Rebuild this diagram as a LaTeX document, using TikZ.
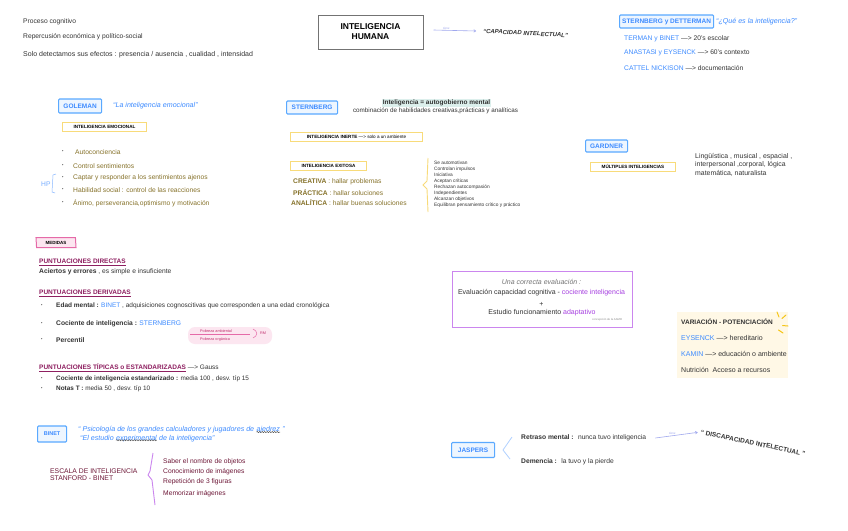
\documentclass[tikz,border=0pt]{standalone}
\usepackage{fontspec}
\setmainfont{Liberation Sans}
\usetikzlibrary{arrows.meta,shapes.geometric,decorations.pathmorphing}
\definecolor{ink}{HTML}{333333}
\definecolor{nameblue}{HTML}{3D8BFF}
\definecolor{boxblue}{HTML}{5AA9FF}
\definecolor{boxfill}{HTML}{EEF6FF}
\definecolor{olivetx}{HTML}{86722A}
\definecolor{tagyel}{HTML}{F8DB7A}
\definecolor{mag}{HTML}{8E1F60}
\definecolor{maroontx}{HTML}{6E1838}
\definecolor{purp}{HTML}{A63FE0}
\definecolor{purpline}{HTML}{CB86EE}
\definecolor{pinkline}{HTML}{E56AA8}
\definecolor{pinkfill}{HTML}{FCE6F0}
\definecolor{pinktx}{HTML}{C0306E}
\definecolor{lav}{HTML}{A0A8EE}
\definecolor{cream}{HTML}{FFF8E6}
\definecolor{sun}{HTML}{F5C518}
\definecolor{mint}{HTML}{DCEFEC}
\newcommand\tto{---{}>}
\begin{document}
\begin{tikzpicture}[x=1pt,y=-1pt,
 txt/.style={anchor=west,inner sep=0pt,text=ink,font=\fontsize{6.7}{8}\selectfont},
 tiny/.style={txt,font=\fontsize{4.8}{5}\selectfont},
 author/.style={draw=boxblue,fill=boxfill,line width=1.2pt,rounded corners=1pt,anchor=west,inner sep=0pt,text=nameblue,font=\fontsize{6.5}{7}\selectfont\bfseries},
 tagbox/.style={draw=tagyel,line width=1pt,anchor=west,inner sep=0pt,minimum height=9,text=black,font=\fontsize{4.6}{5}\selectfont\bfseries},
 quoteblue/.style={txt,text=nameblue,font=\fontsize{7.1}{8}\selectfont\itshape},
 goltx/.style={txt,text=olivetx},
 headmag/.style={txt,text=mag,font=\fontsize{6.5}{8}\selectfont\bfseries},
 dotmark/.style={txt,font=\fontsize{4}{5}\selectfont},
 maroon/.style={txt,text=maroontx},
 handq/.style={inner sep=0pt,text=ink,font=\fontsize{6}{7}\selectfont\bfseries\itshape},
 sk/.style={lav,line width=0.6pt,-{To[length=2.5pt,width=3pt]}},
 sklbl/.style={inner sep=0.5pt,text=lav,font=\fontsize{3}{3}\selectfont\itshape},
 wig/.style={decorate,decoration={snake,amplitude=0.6pt,segment length=2.5pt},line width=0.45pt,black!70},
]
\useasboundingbox[fill=white] (0,0) rectangle (848,530);

\node[txt] (cog) at (23,22) {Proceso cognitivo};
\node[txt] (rep) at (23,37) {Repercusión económica y político-social};
\node[txt,font=\fontsize{7}{8}\selectfont] (sol) at (23,55) {Solo detectamos sus efectos : presencia / ausencia , cualidad , intensidad};

\node[draw=black!55,line width=1pt,minimum width=105,minimum height=34,align=center,inner sep=0pt,font=\fontsize{8.5}{10}\selectfont\bfseries] (hum) at (370.5,32) {INTELIGENCIA\\HUMANA};
\node[handq,rotate=-3,anchor=west] (capq) at (483,31) {“CAPACIDAD INTELECTUAL”};
\draw[sk] ([shift={(10,-2)}]hum.east) -- node[sklbl,pos=0.3,above] {tiene} ([xshift=-7]capq.west);

\node[author,minimum width=94,minimum height=13] (stdet) at (619,21.5) {STERNBERG y DETTERMAN};
\node[quoteblue] (qes) at (716,22) {“¿Qué es la inteligencia?”};
\node[txt] (ter) at (624,39) {\textcolor{nameblue}{TERMAN y BINET} \tto{} 20's escolar};
\node[txt] (ana) at (624,53) {\textcolor{nameblue}{ANASTASI y EYSENCK} \tto{} 60's contexto};
\node[txt] (cat) at (624,68) {\textcolor{nameblue}{CATTEL NICKISON} \tto{} documentación};

\node[author,minimum width=43,minimum height=14] (gol) at (58,106) {GOLEMAN};
\node[quoteblue] (golq) at (113,106) {“La inteligencia emocional”};
\node[tagbox,minimum width=84] (emo) at (62,126.5) {INTELIGENCIA EMOCIONAL};
\node[dotmark] (g1d) at (62,152) {•};
\node[goltx] (g1) at (75,152) {Autoconciencia};
\node[dotmark] (g2d) at (62,166) {•};
\node[goltx] (g2) at (73,166) {Control sentimientos};
\node[dotmark] (g3d) at (62,178) {•};
\node[goltx] (g3) at (73,178) {Captar y responder a los sentimientos ajenos};
\node[dotmark] (g4d) at (62,190) {•};
\node[goltx] (g4) at (73,190) {Habilidad social : control de las reacciones};
\node[dotmark] (g5d) at (62,203) {•};
\node[goltx] (g5) at (73,203) {Ánimo, perseverancia,optimismo y motivación};
\node[txt,text=nameblue!70] (hp) at (41,184) {HP};
\draw[nameblue!60,line width=0.5pt] (56,174) -- (53,175) -- (52,192) -- (55,193);

\node[author,minimum width=51,minimum height=13] (ste) at (286,107.5) {STERNBERG};
\node[inner sep=0.6pt,fill=mint,text=ink,font=\fontsize{6.5}{7}\selectfont\bfseries] (auto) at (436.5,103) {Inteligencia = autogobierno mental};
\node[txt,anchor=center,font=\fontsize{6.3}{7}\selectfont] (comb) at (435.5,111) {combinación de habilidades creativas,prácticas y analíticas};
\node[tagbox,minimum width=132] (inerte) at (290,136.5) {INTELIGENCIA INERTE \textmd{\tto{} solo a un ambiente}};
\node[tagbox,minimum width=76] (exit) at (290,165.5) {INTELIGENCIA EXITOSA};
\node[goltx] (crea) at (293,182) {\textbf{CREATIVA} : hallar problemas};
\node[goltx] (prac) at (293,193) {\textbf{PRÁCTICA} : hallar soluciones};
\node[goltx] (anal) at (291,203) {\textbf{ANALÍTICA} : hallar buenas soluciones};
\draw[tagyel,line width=0.9pt] (428,158) .. controls (427,170) .. (427,181) -- (423,185) -- (427,189) .. controls (427,200) .. (428,212);
\node[tiny] (s1) at (434,163) {Se automotivan};
\node[tiny] (s2) at (434,169) {Controlan impulsos};
\node[tiny] (s3) at (434,175) {Iniciativa};
\node[tiny] (s4) at (434,181) {Aceptan críticas};
\node[tiny] (s5) at (434,187) {Rechazan autocompasión};
\node[tiny] (s6) at (434,193) {Independientes};
\node[tiny] (s7) at (434,199) {Alcanzan objetivos};
\node[tiny] (s8) at (434,205) {Equilibran pensamiento crítico y práctico};

\node[author,minimum width=42,minimum height=12] (gar) at (585,146) {GARDNER};
\node[tagbox,minimum width=85] (mul) at (590,166.5) {MÚLTIPLES INTELIGENCIAS};
\node[txt,align=left,anchor=north west,font=\fontsize{6.9}{8.5}\selectfont] (gtip) at (695,153) {Lingüística , musical , espacial ,\\interpersonal ,corporal, lógica\\matemática, naturalista};

\node[trapezium,trapezium left angle=100,trapezium right angle=80,trapezium stretches body,draw=pinkline,fill=pinkfill,line width=1pt,minimum width=40,minimum height=10,inner sep=0pt,font=\fontsize{4.5}{5}\selectfont\bfseries] (med) at (56,242.5) {MEDIDAS};
\node[headmag] (pdir) at (39,262) {\underline{PUNTUACIONES DIRECTAS}};
\node[txt] (acer) at (39,272) {\textbf{Aciertos y errores} , es simple e insuficiente};
\node[headmag] (pder) at (39,293) {\underline{PUNTUACIONES DERIVADAS}};
\node[dotmark] (d1d) at (41,306) {•};
\node[txt,font=\fontsize{6.5}{8}\selectfont] (d1) at (56,306) {\textbf{Edad mental :} \textcolor{nameblue}{BINET} , adquisiciones cognoscitivas que corresponden a una edad cronológica};
\node[dotmark] (d2d) at (41,324) {•};
\node[txt] (d2) at (56,324) {\textbf{Cociente de inteligencia :} \textcolor{nameblue}{STERNBERG}};
\node[dotmark] (d3d) at (41,340) {•};
\node[txt] (d3) at (56,340) {\textbf{Percentil}};
\fill[pinkfill,rounded corners=7pt] (188,327) rectangle (272,344);
\node[txt,text=pinktx,font=\fontsize{3.8}{4}\selectfont] (pamb) at (200,331.5) {Pobreza ambiental};
\node[txt,text=pinktx,font=\fontsize{3.8}{4}\selectfont] (porg) at (200,339.5) {Pobreza orgánica};
\draw[pinkline,line width=0.5pt] (190,334.5) -- (250,334.5);
\draw[pinkline,line width=0.5pt] (253,329) .. controls (258,331) and (258,336) .. (253,338);
\node[txt,text=pinktx,font=\fontsize{3.8}{4}\selectfont] (rm) at (260,333.5) {RM};
\node[headmag] (ptip) at (39,368) {\underline{PUNTUACIONES TÍPICAS o ESTANDARIZADAS} \textcolor{ink}{\textmd{\tto{} Gauss}}};
\node[dotmark] (t1d) at (41,379) {•};
\node[txt,font=\fontsize{6.4}{8}\selectfont] (t1) at (56,379) {\textbf{Cociente de inteligencia estandarizado :} media 100 , desv. típ 15};
\node[dotmark] (t2d) at (41,389) {•};
\node[txt,font=\fontsize{6.4}{8}\selectfont] (t2) at (56,389) {\textbf{Notas T :} media 50 , desv. típ 10};

\node[draw=purpline,line width=1pt,minimum width=180,minimum height=56] (eval) at (542,299) {};
\node[txt,anchor=center,text=black!55,font=\fontsize{7}{8}\selectfont\itshape] (ev0) at (541.5,282) {Una correcta evaluación :};
\node[txt,anchor=center,font=\fontsize{7}{8}\selectfont] (ev1) at (541.5,293) {Evaluación capacidad cognitiva - \textcolor{purp}{cociente inteligencia}};
\node[txt,anchor=center,font=\fontsize{7}{8}\selectfont] (ev2) at (541.5,304) {+};
\node[txt,anchor=center,font=\fontsize{7}{8}\selectfont] (ev3) at (542,313) {Estudio funcionamiento \textcolor{purp}{adaptativo}};
\node[txt,text=black!45,font=\fontsize{2.8}{3}\selectfont] (ev4) at (592,320) {concepción de la AAMR};

\fill[cream] (677,312) rectangle (788,378);
\node[txt,font=\fontsize{6.5}{7}\selectfont\bfseries] (var) at (681,322) {VARIACIÓN - POTENCIACIÓN};
\node[txt,font=\fontsize{7}{8}\selectfont] (eys) at (681,337.5) {\textcolor{nameblue}{EYSENCK} \tto{} hereditario};
\node[txt,font=\fontsize{7}{8}\selectfont] (kam) at (681,353.5) {\textcolor{nameblue}{KAMIN} \tto{} educación o ambiente};
\node[txt,font=\fontsize{7}{8}\selectfont] (nut) at (681,370) {Nutrición \ Acceso a recursos};
\draw[sun,line width=1pt,line cap=round] (777,312) -- (779,317);
\draw[sun,line width=1pt,line cap=round] (786,315) -- (782,318.5);
\draw[sun,line width=1pt,line cap=round] (788,326) -- (782.5,325.5);
\draw[sun,line width=1pt,line cap=round] (783,333) -- (778.5,330);

\node[author,minimum width=29,minimum height=16,font=\fontsize{5.5}{6}\selectfont\bfseries] (bin) at (37,434) {BINET};
\node[quoteblue] (bq1) at (78,430) {“ Psicología de los grandes calculadores y jugadores de};
\node[quoteblue,anchor=base west] (ajd) at ([xshift=2]bq1.base east) {ajedrez};
\node[quoteblue,anchor=base west] (bq1e) at ([xshift=2]ajd.base east) {”};
\node[quoteblue] (bq2) at (80,437.5) {“El estudio};
\node[quoteblue,anchor=base west] (expm) at ([xshift=2]bq2.base east) {experimental};
\node[quoteblue,anchor=base west] (bq2e) at ([xshift=2]expm.base east) {de la inteligencia”};
\draw[wig] ([yshift=1.5]ajd.south west) -- ([yshift=1.5]ajd.south east);
\draw[wig] ([yshift=1.5]expm.south west) -- ([yshift=1.5]expm.south east);
\node[maroon,align=left,font=\fontsize{6.8}{7.5}\selectfont] (esc) at (50,474.5) {ESCALA DE INTELIGENCIA\\STANFORD - BINET};
\draw[purpline,line width=0.9pt] (153,453) .. controls (151,462) .. (150,471) -- (148,475) -- (152,480) .. controls (154,492) .. (155,505);
\node[maroon] (b1) at (163,462) {Saber el nombre de objetos};
\node[maroon] (b2) at (163,472) {Conocimiento de imágenes};
\node[maroon] (b3) at (163,482) {Repetición de 3 figuras};
\node[maroon] (b4) at (163,494) {Memorizar imágenes};

\node[author,minimum width=43,minimum height=15] (jas) at (451,450) {JASPERS};
\draw[nameblue!40,line width=0.8pt] (512,437) -- (503,450) -- (510,459);
\node[txt] (ret) at (521,438) {\textbf{Retraso mental :} \ nunca tuvo inteligencia};
\node[txt] (dem) at (521,462) {\textbf{Demencia :} \ la tuvo y la pierde};
\node[handq,rotate=-11.5,font=\fontsize{6.5}{7}\selectfont\bfseries] (disq) at (753,443) {“ DISCAPACIDAD INTELECTUAL ”};
\draw[sk] ([xshift=9]ret.east) -- node[sklbl,pos=0.4,above] {tiene} ([xshift=-3]disq.west);
\end{tikzpicture}
\end{document}
